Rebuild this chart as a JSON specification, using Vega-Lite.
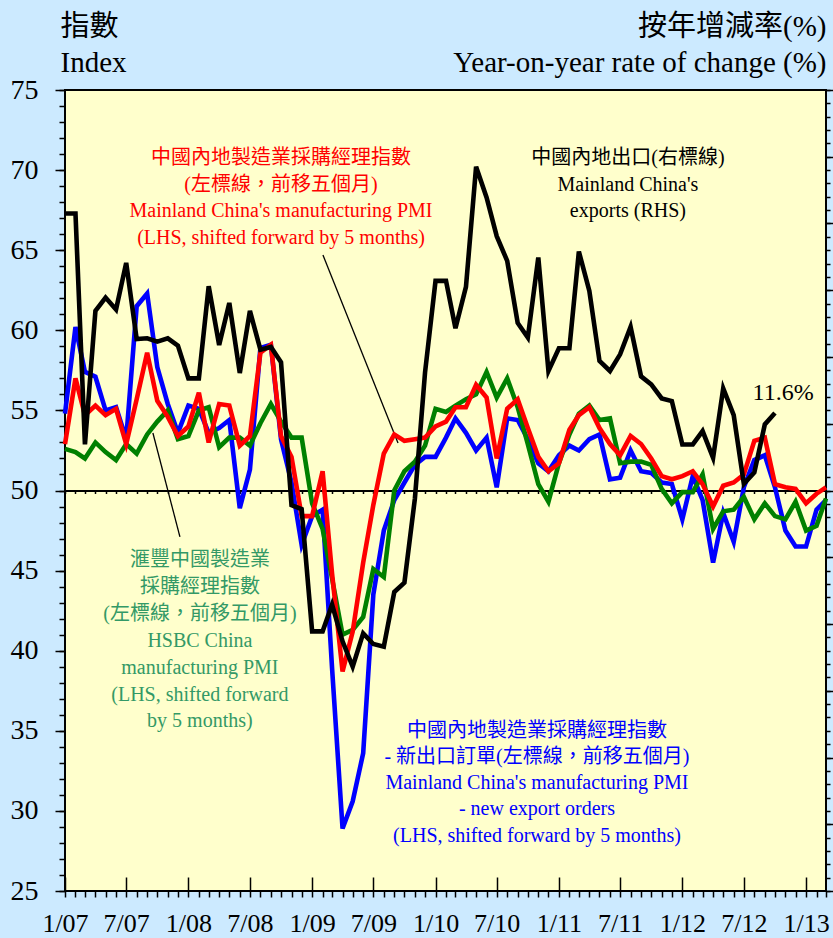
{
  "$schema": "https://vega.github.io/schema/vega-lite/v6.json",
  "width": 761,
  "height": 801,
  "autosize": {"type": "none"},
  "padding": {"left": 65, "top": 90, "right": 7, "bottom": 47},
  "background": "#cceaff",
  "view": {"fill": "#ffffcc", "stroke": "#000000", "strokeWidth": 2},
  "config": {
    "axis": {"tickColor": "#000000", "tickWidth": 1.5, "labelColor": "#000000", "labelFont": "Liberation Serif", "titleFont": "Liberation Serif, Noto Sans CJK TC", "titleFontWeight": "normal", "titleColor": "#000000", "domain": false, "grid": false}
  },
  "datasets": {
    "series": [
      {"d": "2007-01-01", "pmi": 52.9, "neo": 54.8, "hsbc": 52.6, "exp": 41.5},
      {"d": "2007-02-01", "pmi": 57.0, "neo": 60.2, "hsbc": 52.4, "exp": 41.5},
      {"d": "2007-03-01", "pmi": 54.7, "neo": 57.4, "hsbc": 52.0, "exp": 6.9},
      {"d": "2007-04-01", "pmi": 55.3, "neo": 57.1, "hsbc": 53.0, "exp": 26.9},
      {"d": "2007-05-01", "pmi": 54.7, "neo": 55.0, "hsbc": 52.4, "exp": 28.9},
      {"d": "2007-06-01", "pmi": 55.1, "neo": 55.2, "hsbc": 51.9, "exp": 27.1},
      {"d": "2007-07-01", "pmi": 52.9, "neo": 53.2, "hsbc": 52.9, "exp": 34.1},
      {"d": "2007-08-01", "pmi": 55.7, "neo": 61.5, "hsbc": 52.3, "exp": 22.7},
      {"d": "2007-09-01", "pmi": 58.6, "neo": 62.3, "hsbc": 53.5, "exp": 22.8},
      {"d": "2007-10-01", "pmi": 55.6, "neo": 57.7, "hsbc": 54.3, "exp": 22.3},
      {"d": "2007-11-01", "pmi": 54.6, "neo": 55.4, "hsbc": 55.0, "exp": 22.8},
      {"d": "2007-12-01", "pmi": 53.4, "neo": 53.6, "hsbc": 53.2, "exp": 21.7},
      {"d": "2008-01-01", "pmi": 54.0, "neo": 55.3, "hsbc": 53.4, "exp": 16.8},
      {"d": "2008-02-01", "pmi": 56.1, "neo": 55.1, "hsbc": 55.0, "exp": 16.8},
      {"d": "2008-03-01", "pmi": 53.0, "neo": 53.6, "hsbc": 55.2, "exp": 30.6},
      {"d": "2008-04-01", "pmi": 55.4, "neo": 53.9, "hsbc": 52.7, "exp": 21.8},
      {"d": "2008-05-01", "pmi": 55.3, "neo": 54.4, "hsbc": 53.3, "exp": 28.1},
      {"d": "2008-06-01", "pmi": 52.8, "neo": 48.9, "hsbc": 53.3, "exp": 17.6},
      {"d": "2008-07-01", "pmi": 53.4, "neo": 51.3, "hsbc": 52.8, "exp": 26.9},
      {"d": "2008-08-01", "pmi": 58.6, "neo": 58.9, "hsbc": 54.2, "exp": 21.1},
      {"d": "2008-09-01", "pmi": 59.1, "neo": 59.1, "hsbc": 55.4, "exp": 21.5},
      {"d": "2008-10-01", "pmi": 53.4, "neo": 53.2, "hsbc": 54.3, "exp": 19.2},
      {"d": "2008-11-01", "pmi": 52.1, "neo": 50.5, "hsbc": 53.3, "exp": -2.2},
      {"d": "2008-12-01", "pmi": 48.4, "neo": 46.6, "hsbc": 53.3, "exp": -2.8},
      {"d": "2009-01-01", "pmi": 48.4, "neo": 48.4, "hsbc": 49.2, "exp": -21.1},
      {"d": "2009-02-01", "pmi": 51.2, "neo": 48.8, "hsbc": 47.6, "exp": -21.1},
      {"d": "2009-03-01", "pmi": 44.8, "neo": 38.9, "hsbc": 44.5, "exp": -17.1},
      {"d": "2009-04-01", "pmi": 38.7, "neo": 28.9, "hsbc": 41.0, "exp": -22.6},
      {"d": "2009-05-01", "pmi": 41.2, "neo": 30.6, "hsbc": 41.3, "exp": -26.4},
      {"d": "2009-06-01", "pmi": 45.5, "neo": 33.6, "hsbc": 42.1, "exp": -21.4},
      {"d": "2009-07-01", "pmi": 49.1, "neo": 43.5, "hsbc": 45.1, "exp": -23.0},
      {"d": "2009-08-01", "pmi": 52.3, "neo": 47.5, "hsbc": 44.6, "exp": -23.4},
      {"d": "2009-09-01", "pmi": 53.5, "neo": 49.4, "hsbc": 50.0, "exp": -15.2},
      {"d": "2009-10-01", "pmi": 53.1, "neo": 50.5, "hsbc": 51.2, "exp": -13.8},
      {"d": "2009-11-01", "pmi": 53.2, "neo": 51.6, "hsbc": 51.8, "exp": -1.2},
      {"d": "2009-12-01", "pmi": 53.3, "neo": 52.1, "hsbc": 52.8, "exp": 17.7},
      {"d": "2010-01-01", "pmi": 54.0, "neo": 52.1, "hsbc": 55.1, "exp": 31.4},
      {"d": "2010-02-01", "pmi": 54.3, "neo": 53.3, "hsbc": 54.9, "exp": 31.4},
      {"d": "2010-03-01", "pmi": 55.2, "neo": 54.5, "hsbc": 55.3, "exp": 24.3},
      {"d": "2010-04-01", "pmi": 55.2, "neo": 53.6, "hsbc": 55.7, "exp": 30.5},
      {"d": "2010-05-01", "pmi": 56.6, "neo": 52.5, "hsbc": 56.0, "exp": 48.5},
      {"d": "2010-06-01", "pmi": 55.8, "neo": 53.3, "hsbc": 57.4, "exp": 43.9},
      {"d": "2010-07-01", "pmi": 52.0, "neo": 50.2, "hsbc": 55.8, "exp": 38.1},
      {"d": "2010-08-01", "pmi": 55.1, "neo": 54.5, "hsbc": 57.0, "exp": 34.4},
      {"d": "2010-09-01", "pmi": 55.7, "neo": 54.4, "hsbc": 55.2, "exp": 25.1},
      {"d": "2010-10-01", "pmi": 53.9, "neo": 53.2, "hsbc": 52.9, "exp": 22.9},
      {"d": "2010-11-01", "pmi": 52.1, "neo": 51.7, "hsbc": 50.4, "exp": 34.9},
      {"d": "2010-12-01", "pmi": 51.2, "neo": 51.2, "hsbc": 49.3, "exp": 17.9},
      {"d": "2011-01-01", "pmi": 51.7, "neo": 52.2, "hsbc": 51.7, "exp": 21.3},
      {"d": "2011-02-01", "pmi": 53.8, "neo": 52.8, "hsbc": 53.5, "exp": 21.3},
      {"d": "2011-03-01", "pmi": 54.7, "neo": 52.5, "hsbc": 54.8, "exp": 35.8},
      {"d": "2011-04-01", "pmi": 55.2, "neo": 53.2, "hsbc": 55.3, "exp": 29.9},
      {"d": "2011-05-01", "pmi": 53.9, "neo": 53.5, "hsbc": 54.4, "exp": 19.4},
      {"d": "2011-06-01", "pmi": 52.9, "neo": 50.7, "hsbc": 54.5, "exp": 17.9},
      {"d": "2011-07-01", "pmi": 52.2, "neo": 50.8, "hsbc": 51.7, "exp": 20.4},
      {"d": "2011-08-01", "pmi": 53.4, "neo": 52.5, "hsbc": 51.8, "exp": 24.5},
      {"d": "2011-09-01", "pmi": 52.9, "neo": 51.2, "hsbc": 51.8, "exp": 17.1},
      {"d": "2011-10-01", "pmi": 52.0, "neo": 51.1, "hsbc": 51.6, "exp": 15.9},
      {"d": "2011-11-01", "pmi": 50.9, "neo": 50.5, "hsbc": 50.1, "exp": 13.8},
      {"d": "2011-12-01", "pmi": 50.7, "neo": 50.4, "hsbc": 49.2, "exp": 13.4},
      {"d": "2012-01-01", "pmi": 50.9, "neo": 48.2, "hsbc": 49.9, "exp": 6.9},
      {"d": "2012-02-01", "pmi": 51.2, "neo": 50.9, "hsbc": 49.9, "exp": 6.9},
      {"d": "2012-03-01", "pmi": 50.4, "neo": 49.4, "hsbc": 51.0, "exp": 8.9},
      {"d": "2012-04-01", "pmi": 49.0, "neo": 45.5, "hsbc": 47.6, "exp": 4.9},
      {"d": "2012-05-01", "pmi": 50.3, "neo": 48.6, "hsbc": 48.7, "exp": 15.3},
      {"d": "2012-06-01", "pmi": 50.5, "neo": 46.8, "hsbc": 48.8, "exp": 11.3},
      {"d": "2012-07-01", "pmi": 51.0, "neo": 50.2, "hsbc": 49.6, "exp": 1.0},
      {"d": "2012-08-01", "pmi": 53.1, "neo": 51.9, "hsbc": 48.2, "exp": 2.7},
      {"d": "2012-09-01", "pmi": 53.3, "neo": 52.2, "hsbc": 49.2, "exp": 9.9},
      {"d": "2012-10-01", "pmi": 50.4, "neo": 50.2, "hsbc": 48.4, "exp": 11.6},
      {"d": "2012-11-01", "pmi": 50.2, "neo": 47.5, "hsbc": 48.2, "exp": null},
      {"d": "2012-12-01", "pmi": 50.1, "neo": 46.5, "hsbc": 49.3, "exp": null},
      {"d": "2013-01-01", "pmi": 49.2, "neo": 46.5, "hsbc": 47.5, "exp": null},
      {"d": "2013-02-01", "pmi": 49.8, "neo": 48.8, "hsbc": 47.8, "exp": null},
      {"d": "2013-03-01", "pmi": 50.2, "neo": 49.4, "hsbc": 49.5, "exp": null}
    ],
    "notes": [
      {"d": "2008-10-01", "v": 70.76, "g": "PMI", "t": "中國內地製造業採購經理指數"},
      {"d": "2008-10-01", "v": 69.07, "g": "PMI", "t": "(左標線，前移五個月)"},
      {"d": "2008-10-01", "v": 67.45, "g": "PMI", "t": "Mainland China's manufacturing PMI"},
      {"d": "2008-10-01", "v": 65.76, "g": "PMI", "t": "(LHS, shifted forward by 5 months)"},
      {"d": "2011-07-24", "v": 70.76, "g": "EXP", "t": "中國內地出口(右標線)"},
      {"d": "2011-07-24", "v": 69.07, "g": "EXP", "t": "Mainland China's"},
      {"d": "2011-07-24", "v": 67.45, "g": "EXP", "t": "exports (RHS)"},
      {"d": "2008-02-04", "v": 45.66, "g": "HSBC", "t": "滙豐中國製造業"},
      {"d": "2008-02-04", "v": 43.98, "g": "HSBC", "t": "採購經理指數"},
      {"d": "2008-02-04", "v": 42.29, "g": "HSBC", "t": "(左標線，前移五個月)"},
      {"d": "2008-02-04", "v": 40.61, "g": "HSBC", "t": "HSBC China"},
      {"d": "2008-02-04", "v": 38.92, "g": "HSBC", "t": "manufacturing PMI"},
      {"d": "2008-02-04", "v": 37.23, "g": "HSBC", "t": "(LHS, shifted forward"},
      {"d": "2008-02-04", "v": 35.61, "g": "HSBC", "t": "by 5 months)"},
      {"d": "2010-10-28", "v": 34.99, "g": "NEO", "t": "中國內地製造業採購經理指數"},
      {"d": "2010-10-28", "v": 33.36, "g": "NEO", "t": "- 新出口訂單(左標線，前移五個月)"},
      {"d": "2010-10-28", "v": 31.74, "g": "NEO", "t": "Mainland China's manufacturing PMI"},
      {"d": "2010-10-28", "v": 30.12, "g": "NEO", "t": "- new export orders"},
      {"d": "2010-10-28", "v": 28.43, "g": "NEO", "t": "(LHS, shifted forward by 5 months)"}
    ],
    "leaders": [
      {"a": "2009-02-02", "ya": 64.70, "b": "2009-09-12", "yb": 52.97},
      {"a": "2007-09-18", "ya": 53.59, "b": "2007-12-07", "yb": 47.10}
    ],
    "last": [
      {"d": "2012-10-25", "r": 14.6, "t": "11.6%"}
    ]
  },
  "resolve": {"scale": {"y": "independent"}, "axis": {"x": "independent", "y": "independent"}},
  "layer": [
    {
      "data": {"name": "leaders"},
      "mark": {"type": "rule", "color": "#000000", "strokeWidth": 1.3},
      "encoding": {
        "x": {"field": "a", "type": "temporal", "scale": {"type": "utc", "domain": [{"year": 2007, "month": 1, "date": 1, "utc": true}, {"year": 2013, "month": 3, "date": 1, "utc": true}]}, "axis": null},
        "x2": {"field": "b"},
        "y": {"field": "ya", "type": "quantitative", "scale": {"domain": [25, 75], "zero": false, "nice": false}, "axis": null},
        "y2": {"field": "yb"}
      }
    },
    {
      "data": {"name": "series"},
      "mark": {"type": "line", "color": "#0000ff", "strokeWidth": 4.6},
      "encoding": {
        "x": {"field": "d", "type": "temporal", "scale": {"type": "utc", "domain": [{"year": 2007, "month": 1, "date": 1, "utc": true}, {"year": 2013, "month": 3, "date": 1, "utc": true}]},
          "axis": {"orient": "bottom", "tickCount": {"interval": "month", "step": 6}, "format": "%-m/%y", "tickSize": -14, "labelPadding": 33, "labelFontSize": 26, "labelFlush": false, "labelOverlap": false, "labelBaseline": "top", "title": null}},
        "y": {"field": "neo", "type": "quantitative", "scale": {"domain": [25, 75], "zero": false, "nice": false},
          "axis": {"orient": "left", "values": [25, 30, 35, 40, 45, 50, 55, 60, 65, 70, 75], "tickSize": 10, "labelPadding": 17, "labelFontSize": 28, "labelFlush": false, "labelOverlap": false, "labelBaseline": "middle",
            "title": ["指數", "Index"], "titleAngle": 0, "titleAlign": "left", "titleBaseline": "alphabetic", "titleX": -5, "titleY": -55, "titleFontSize": 29, "titleLineHeight": 36}}
      }
    },
    {
      "data": {"name": "series"},
      "mark": {"type": "line", "color": "#008000", "strokeWidth": 4.6},
      "encoding": {
        "x": {"field": "d", "type": "temporal", "scale": {"type": "utc", "domain": [{"year": 2007, "month": 1, "date": 1, "utc": true}, {"year": 2013, "month": 3, "date": 1, "utc": true}]},
          "axis": {"orient": "bottom", "tickCount": {"interval": "month", "step": 1}, "tickSize": 6, "labels": false, "title": null}},
        "y": {"field": "hsbc", "type": "quantitative", "scale": {"domain": [25, 75], "zero": false, "nice": false},
          "axis": {"orient": "left", "tickCount": 50, "tickSize": 6, "labels": false, "title": null}}
      }
    },
    {
      "data": {"name": "series"},
      "mark": {"type": "line", "color": "#ff0000", "strokeWidth": 4.6},
      "encoding": {
        "x": {"field": "d", "type": "temporal", "scale": {"type": "utc", "domain": [{"year": 2007, "month": 1, "date": 1, "utc": true}, {"year": 2013, "month": 3, "date": 1, "utc": true}]},
          "axis": {"orient": "bottom", "offset": -400.5, "domain": true, "domainColor": "#000000", "domainWidth": 2, "tickCount": {"interval": "month", "step": 1}, "tickSize": 3, "labels": false, "title": null}},
        "y": {"field": "pmi", "type": "quantitative", "scale": {"domain": [25, 75], "zero": false, "nice": false}, "axis": null}
      }
    },
    {
      "data": {"name": "series"},
      "mark": {"type": "line", "color": "#000000", "strokeWidth": 4.6},
      "encoding": {
        "x": {"field": "d", "type": "temporal", "scale": {"type": "utc", "domain": [{"year": 2007, "month": 1, "date": 1, "utc": true}, {"year": 2013, "month": 3, "date": 1, "utc": true}]}, "axis": null},
        "y": {"field": "exp", "type": "quantitative", "scale": {"domain": [-60, 60], "zero": false, "nice": false},
          "axis": {"orient": "right", "values": [-60, -50, -40, -30, -20, -10, 0, 10, 20, 30, 40, 50, 60], "tickSize": 7, "labels": false,
            "title": ["按年增減率(%)", "Year-on-year rate of change (%)"], "titleAngle": 0, "titleAlign": "right", "titleBaseline": "alphabetic", "titleX": 0, "titleY": -55, "titleFontSize": 29, "titleLineHeight": 36}}
      }
    },
    {
      "data": {"name": "notes"},
      "mark": {"type": "text", "font": "Liberation Serif, Noto Sans CJK TC", "fontSize": 20, "align": "center", "baseline": "middle"},
      "encoding": {
        "x": {"field": "d", "type": "temporal", "scale": {"type": "utc", "domain": [{"year": 2007, "month": 1, "date": 1, "utc": true}, {"year": 2013, "month": 3, "date": 1, "utc": true}]}, "axis": null},
        "y": {"field": "v", "type": "quantitative", "scale": {"domain": [25, 75], "zero": false, "nice": false}, "axis": null},
        "text": {"field": "t"},
        "color": {"field": "g", "type": "nominal", "scale": {"domain": ["PMI", "EXP", "HSBC", "NEO"], "range": ["#ff0000", "#000000", "#339966", "#0000ff"]}, "legend": null}
      }
    },
    {
      "data": {"name": "last"},
      "mark": {"type": "text", "font": "Liberation Serif", "fontSize": 24, "align": "center", "baseline": "middle", "color": "#000000"},
      "encoding": {
        "x": {"field": "d", "type": "temporal", "scale": {"type": "utc", "domain": [{"year": 2007, "month": 1, "date": 1, "utc": true}, {"year": 2013, "month": 3, "date": 1, "utc": true}]}, "axis": null},
        "y": {"field": "r", "type": "quantitative", "scale": {"domain": [-60, 60], "zero": false, "nice": false},
          "axis": {"orient": "right", "tickCount": 60, "tickSize": 4, "labels": false, "title": null}},
        "text": {"field": "t"}
      }
    }
  ]
}
